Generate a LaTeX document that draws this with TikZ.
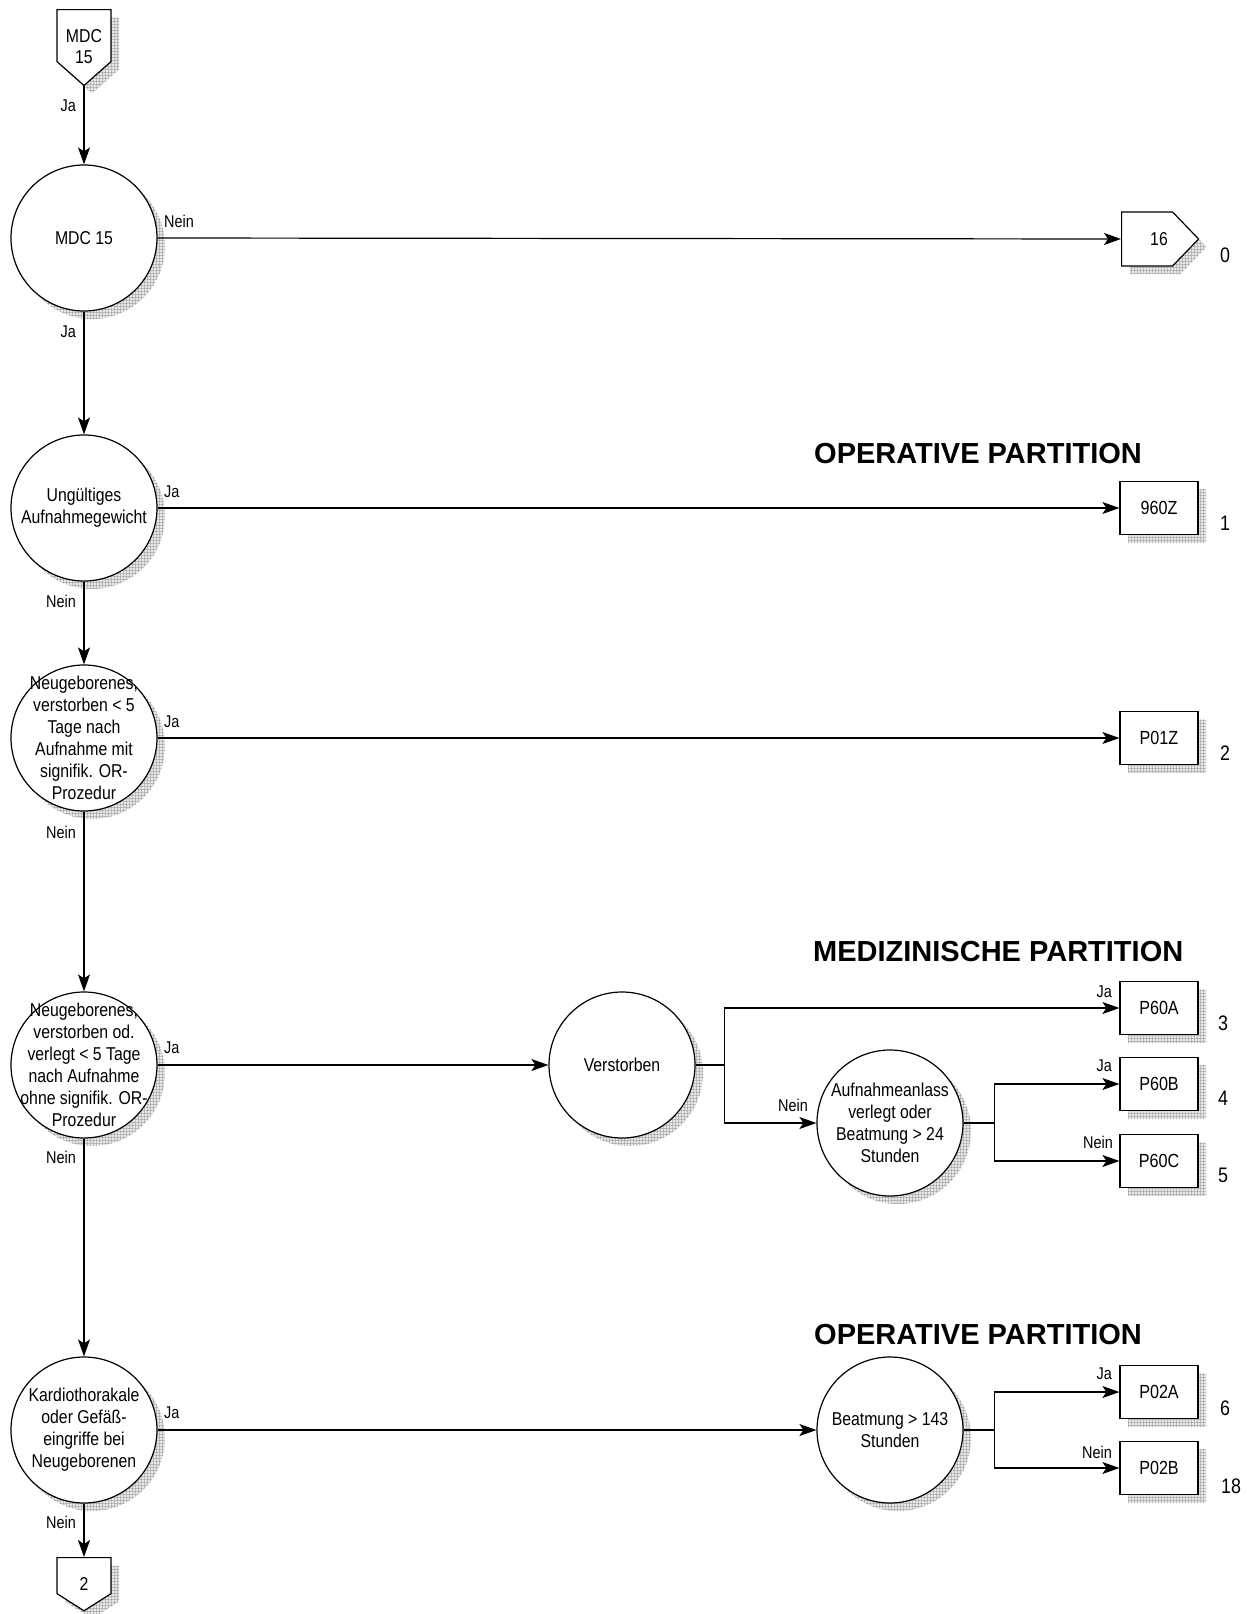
\documentclass[tikz,border=0pt]{standalone}
\usepackage{fontspec}
\setmainfont{Liberation Sans}[FakeStretch=0.85]
\newfontfamily\headfont{Liberation Sans}
\usetikzlibrary{positioning,arrows.meta,shapes.symbols,shadows,patterns}
\tikzset{>={Stealth[length=17pt,width=12pt,inset=4pt]}}
\tikzset{
	% hatched grey shadow of every shape
	grid shadow/.style={drop shadow={shadow xshift=8pt,shadow yshift=-8pt,draw=none,fill=gray!35,postaction={pattern=grid,pattern color=gray!85}}},
	% decision circle, text may run over the rim
	query/.style={circle,draw,line width=1.2pt,fill=white,minimum size=146pt,inner sep=-45pt,align=center,font=\fontsize{18.6}{22}\selectfont,grid shadow},
	% result box
	drgbox/.style={rectangle,draw,line width=1.2pt,fill=white,minimum width=78pt,minimum height=53pt,font=\fontsize{19}{22}\selectfont,grid shadow},
	% page connector
	jump/.style={signal,draw,line width=1.2pt,fill=white,inner sep=0pt,grid shadow},
	jumptext/.style={align=center,inner sep=0pt,font=\fontsize{18.6}{21}\selectfont},
	answer/.style={font=\fontsize{17}{19}\selectfont,inner sep=0pt},
	rank/.style={font=\fontsize{21}{23}\selectfont,inner sep=0pt},
	partition/.style={font=\fontsize{29}{32}\headfont\bfseries,anchor=base west,inner sep=0pt},
	link/.style={line width=1.2pt},
}

\begin{document}
\begin{tikzpicture}[x=1pt,y=-1pt]
	\useasboundingbox (0,0) rectangle (1250,1614);

	% main column
	\node[jump,signal to=south,signal pointer angle=97,minimum width=54pt,minimum height=52pt,anchor=north] (top) at (84,9) {};
	\node[jumptext] at (84,47) {MDC\\15};
	\node[query] (mdc) at (84,238) {MDC 15};
	\node[query] (gewicht) at (84,508) {Ungültiges\\Aufnahmegewicht};
	\node[query] (oprz) at (84,738) {Neugeborenes,\\verstorben < 5\\Tage nach\\Aufnahme mit\\signifik. OR-\\Prozedur};
	\node[query] (ohneop) at (84,1065) {Neugeborenes,\\verstorben od.\\verlegt < 5 Tage\\nach Aufnahme\\ohne signifik. OR-\\Prozedur};
	\node[query] (kardio) at (84,1430) {Kardiothorakale\\oder Gefäß-\\eingriffe bei\\Neugeborenen};
	\node[jump,signal to=south,signal pointer angle=115,minimum width=54pt,minimum height=36pt,anchor=north] (bottom) at (84,1557) {};
	\node[jumptext] at (84,1584) {2};

	% middle circles
	\node[query] (verst) at (622,1065) {Verstorben};
	\node[query] (aufn) at (890,1123) {Aufnahmeanlass\\verlegt oder\\Beatmung > 24\\Stunden};
	\node[query] (beat) at (890,1430) {Beatmung > 143\\Stunden};

	% results
	\node[jump,signal to=east,signal pointer angle=92,minimum width=77pt,minimum height=54pt,anchor=west] (mdc16) at (1121,239) {};
	\node[jumptext] at (1159,239) {16};
	\node[drgbox] (z960) at (1159,508) {960Z};
	\node[drgbox] (p01z) at (1159,738) {P01Z};
	\node[drgbox] (p60a) at (1159,1008) {P60A};
	\node[drgbox] (p60b) at (1159,1084) {P60B};
	\node[drgbox] (p60c) at (1159,1161) {P60C};
	\node[drgbox] (p02a) at (1159,1392) {P02A};
	\node[drgbox] (p02b) at (1159,1468) {P02B};

	\node[rank] at (1225,255) {0};
	\node[rank] at (1225,523) {1};
	\node[rank] at (1225,753) {2};
	\node[rank] at (1223,1023) {3};
	\node[rank] at (1223,1098) {4};
	\node[rank] at (1223,1175) {5};
	\node[rank] at (1225,1408) {6};
	\node[rank] at (1231,1486) {18};

	% headings
	\node[partition] at (814,463) {OPERATIVE PARTITION};
	\node[partition] at (813,961) {MEDIZINISCHE PARTITION};
	\node[partition] at (814,1344) {OPERATIVE PARTITION};

	% connectors down the column
	\draw[link,->] (top.south) -- (mdc.north);
	\draw[link,->] (mdc.south) -- (gewicht.north);
	\draw[link,->] (gewicht.south) -- (oprz.north);
	\draw[link,->] (oprz.south) -- (ohneop.north);
	\draw[link,->] (ohneop.south) -- (kardio.north);
	\draw[link,->] (kardio.south) -- (bottom.north);
	\node[answer,anchor=east] at (76,106) {Ja};
	\node[answer,anchor=east] at (76,332) {Ja};
	\node[answer,anchor=east] at (76,601) {Nein};
	\node[answer,anchor=east] at (76,832) {Nein};
	\node[answer,anchor=east] at (76,1157) {Nein};
	\node[answer,anchor=east] at (76,1522) {Nein};

	% connectors to the right
	\draw[link,->] (mdc.east) -- (mdc16.west);
	\draw[link,->] (gewicht.east) -- (z960.west);
	\draw[link,->] (oprz.east) -- (p01z.west);
	\draw[link,->] (ohneop.east) -- (verst.west);
	\draw[link,->] (kardio.east) -- (beat.west);
	\node[answer,anchor=west] at (164,221) {Nein};
	\node[answer,anchor=west] at (164,492) {Ja};
	\node[answer,anchor=west] at (164,722) {Ja};
	\node[answer,anchor=west] at (164,1048) {Ja};
	\node[answer,anchor=west] at (164,1413) {Ja};

	% branches
	\draw[link,->] (verst.east) -- ++(29,0) |- (p60a.west);
	\draw[link,->] (verst.east) -- ++(29,0) |- (aufn.west);
	\draw[link,->] (aufn.east) -- ++(31,0) |- (p60b.west);
	\draw[link,->] (aufn.east) -- ++(31,0) |- (p60c.west);
	\draw[link,->] (beat.east) -- ++(31,0) |- (p02a.west);
	\draw[link,->] (beat.east) -- ++(31,0) |- (p02b.west);
	\node[answer,anchor=east] at (1112,992) {Ja};
	\node[answer,anchor=east] at (808,1105) {Nein};
	\node[answer,anchor=east] at (1112,1066) {Ja};
	\node[answer,anchor=east] at (1113,1142) {Nein};
	\node[answer,anchor=east] at (1112,1374) {Ja};
	\node[answer,anchor=east] at (1112,1452) {Nein};
\end{tikzpicture}
\end{document}
